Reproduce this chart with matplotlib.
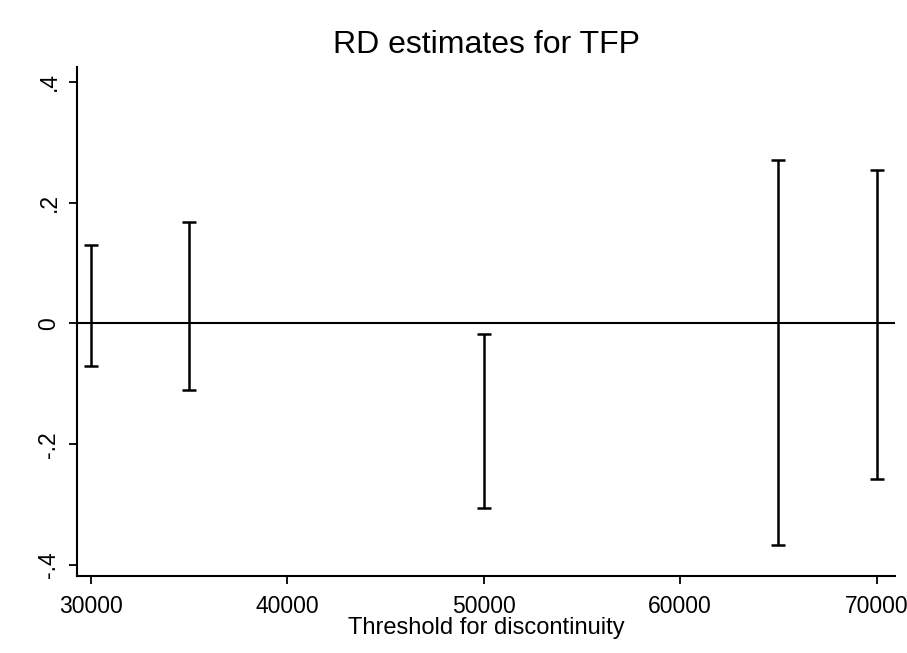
import matplotlib
matplotlib.use("Agg")
import matplotlib.pyplot as plt

# RD estimates: confidence interval bounds at each threshold
thresholds = [30000, 35000, 50000, 65000, 70000]
ci_lower = [-0.070, -0.110, -0.305, -0.367, -0.258]
ci_upper = [0.130, 0.167, -0.018, 0.271, 0.254]
xticks = [30000, 40000, 50000, 60000, 70000]
yticks = [-0.4, -0.2, 0, 0.2, 0.4]
ytick_labels = ["-.4", "-.2", "0", ".2", ".4"]

plt.rcParams["font.family"] = ["Liberation Sans", "DejaVu Sans"]

fig = plt.figure(figsize=(9.07, 6.53), dpi=100)
ax = fig.add_axes([0.085, 0.118, 0.902, 0.78])

mid = [(lo + hi) / 2 for lo, hi in zip(ci_lower, ci_upper)]
half = [(hi - lo) / 2 for lo, hi in zip(ci_lower, ci_upper)]
ax.errorbar(thresholds, mid, yerr=half, fmt="none", ecolor="black",
            elinewidth=1.8, capsize=5, capthick=1.8)
ax.axhline(0, color="black", lw=1.5)

ax.set_xlim(29300, 70950)
ax.set_ylim(-0.418, 0.425)
ax.set_xticks(xticks)
ax.set_yticks(yticks)
ax.set_yticklabels(ytick_labels, rotation=90, va="center")
ax.tick_params(axis="both", labelsize=16.5, length=6, width=1.3, direction="out")
ax.tick_params(axis="y", pad=6)
ax.tick_params(axis="x", pad=8)

for side in ["top", "right"]:
    ax.spines[side].set_visible(False)
for side in ["left", "bottom"]:
    ax.spines[side].set_linewidth(1.5)

ax.set_xlabel("Threshold for discontinuity", fontsize=17, labelpad=-1)
ax.set_title("RD estimates for TFP", fontsize=23, pad=10)

fig.savefig("out.png", dpi=100, facecolor="white")
